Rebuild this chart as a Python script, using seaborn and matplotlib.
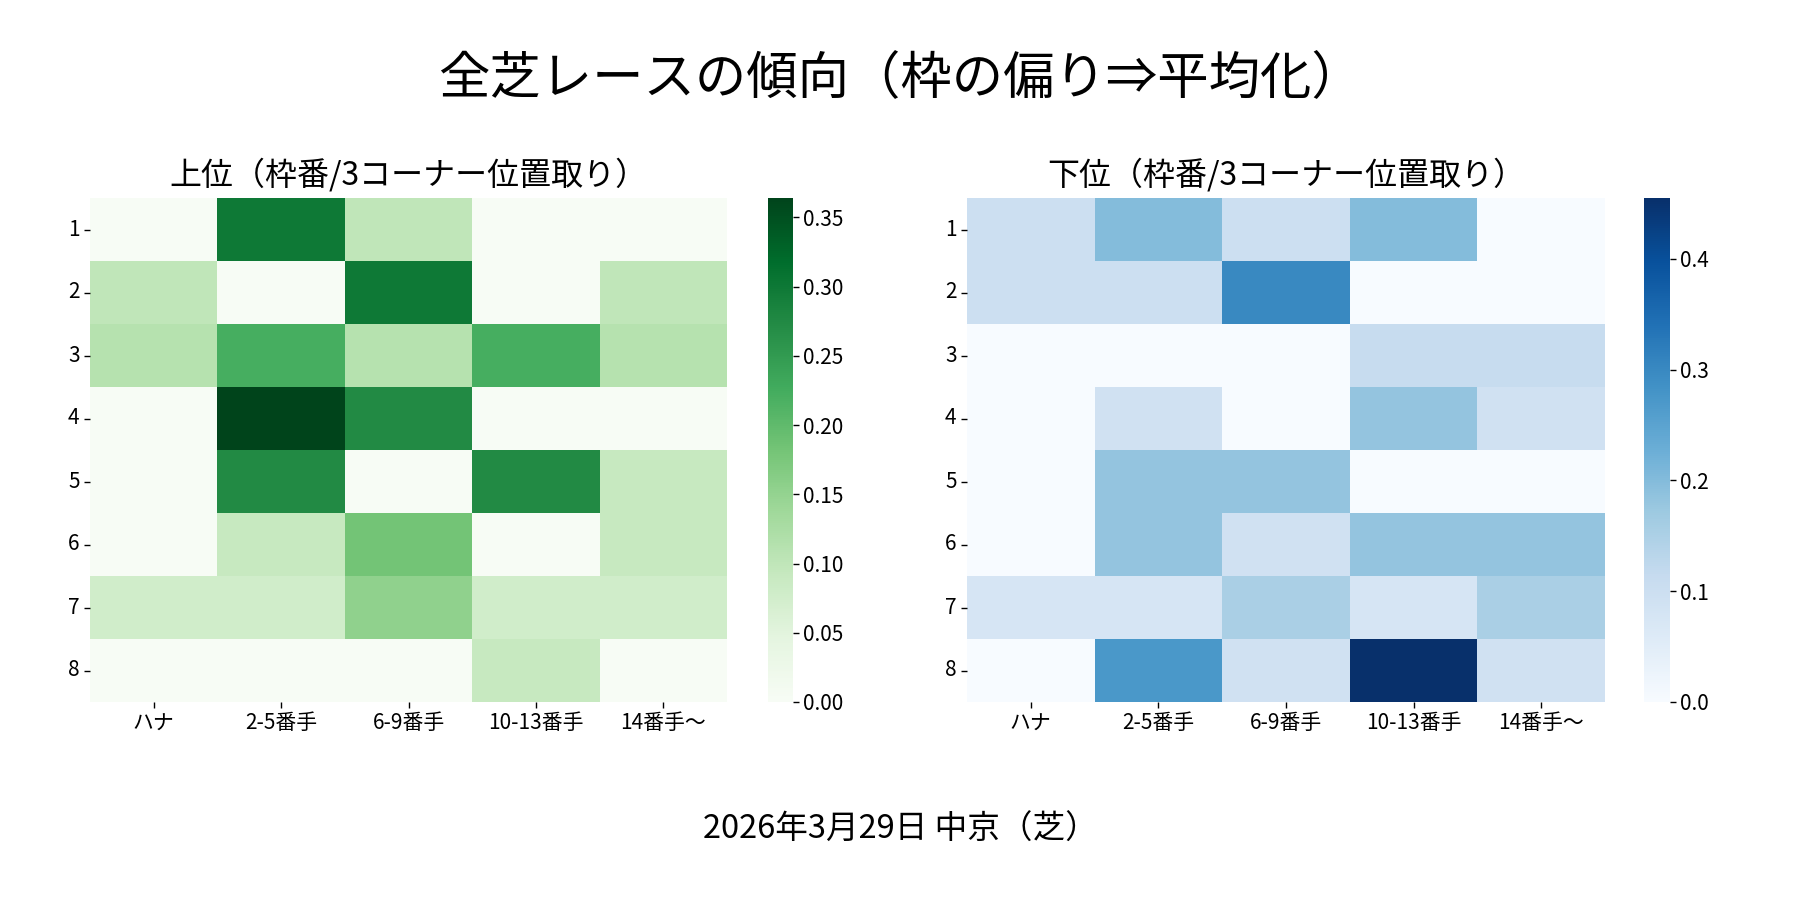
import numpy as np
import pandas as pd
import matplotlib
matplotlib.use("Agg")
import matplotlib.pyplot as plt
import seaborn as sns

# ─────────────────────────────────────────────
# Data (share of horses per 枠)
# ─────────────────────────────────────────────

frames = ["1", "2", "3", "4", "5", "6", "7", "8"]
positions = ["ハナ", "2-5番手", "6-9番手", "10-13番手", "14番手〜"]

upper_1 = [0.000, 0.300, 0.100, 0.000, 0.000]
upper_2 = [0.100, 0.000, 0.300, 0.000, 0.100]
upper_3 = [0.111, 0.222, 0.111, 0.222, 0.111]
upper_4 = [0.000, 0.364, 0.273, 0.000, 0.000]
upper_5 = [0.000, 0.273, 0.000, 0.273, 0.091]
upper_6 = [0.000, 0.091, 0.182, 0.000, 0.091]
upper_7 = [0.077, 0.077, 0.154, 0.077, 0.077]
upper_8 = [0.000, 0.000, 0.000, 0.091, 0.000]

lower_1 = [0.100, 0.200, 0.100, 0.200, 0.000]
lower_2 = [0.100, 0.100, 0.300, 0.000, 0.000]
lower_3 = [0.000, 0.000, 0.000, 0.111, 0.111]
lower_4 = [0.000, 0.091, 0.000, 0.182, 0.091]
lower_5 = [0.000, 0.182, 0.182, 0.000, 0.000]
lower_6 = [0.000, 0.182, 0.091, 0.182, 0.182]
lower_7 = [0.077, 0.077, 0.154, 0.077, 0.154]
lower_8 = [0.000, 0.273, 0.091, 0.455, 0.091]

title = "全芝レースの傾向（枠の偏り⇒平均化）"
upper_title = "上位（枠番/3コーナー位置取り）"
lower_title = "下位（枠番/3コーナー位置取り）"
footer = "2026年3月29日 中京（芝）"

upper_df = pd.DataFrame([upper_1, upper_2, upper_3, upper_4,
                         upper_5, upper_6, upper_7, upper_8],
                        index=frames, columns=positions)
lower_df = pd.DataFrame([lower_1, lower_2, lower_3, lower_4,
                         lower_5, lower_6, lower_7, lower_8],
                        index=frames, columns=positions)

# ─────────────────────────────────────────────
# Plot
# ─────────────────────────────────────────────

plt.rcParams["font.family"] = ["Noto Sans CJK JP", "DejaVu Sans"]

fig = plt.figure(figsize=(18, 9), dpi=100)

ax_up = fig.add_axes([0.050, 0.22, 0.354, 0.56])
cax_up = fig.add_axes([0.4267, 0.22, 0.0139, 0.56])
ax_lo = fig.add_axes([0.5372, 0.22, 0.3544, 0.56])
cax_lo = fig.add_axes([0.9133, 0.22, 0.0144, 0.56])

sns.heatmap(upper_df, cmap="Greens", ax=ax_up, cbar_ax=cax_up)
sns.heatmap(lower_df, cmap="Blues", ax=ax_lo, cbar_ax=cax_lo)

for ax, name in [(ax_up, upper_title), (ax_lo, lower_title)]:
    ax.set_title(name, fontsize=23, pad=10)
    ax.set_xlabel("")
    ax.set_ylabel("")
    ax.tick_params(axis="both", which="both", labelsize=15,
                   length=4, width=1, left=True, bottom=True)
    plt.setp(ax.get_yticklabels(), rotation=0)
    plt.setp(ax.get_xticklabels(), rotation=0)

for cax in [cax_up, cax_lo]:
    cax.tick_params(labelsize=15, length=4, width=1)

fig.text(0.5, 0.912, title, ha="center", va="center", fontsize=37)
fig.text(0.5, 0.078, footer, ha="center", va="center", fontsize=23.5)

fig.savefig("out.png", dpi=100)
